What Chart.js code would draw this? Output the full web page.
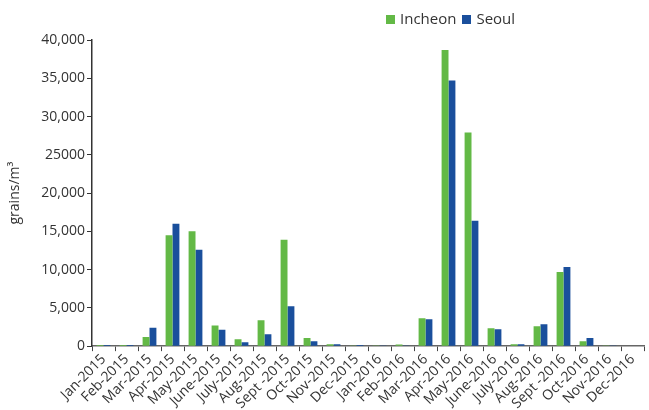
<!DOCTYPE html>
<html>
<head>
<meta charset="utf-8">
<script src="https://cdn.jsdelivr.net/npm/chart.js@4"></script>
<style>
  body { margin: 0; background: #fff; }
  #wrap { position: relative; width: 649px; height: 410px; }
  #legend { position: absolute; left: 386px; top: 8px; font: 15px "Open Sans", sans-serif; color: #333; white-space: nowrap; }
  #legend span.box { display: inline-block; width: 9px; height: 9px; margin-right: 5px; vertical-align: 0px; }
  #legend span.item { margin-right: 6px; }
</style>
</head>
<body>
<div id="wrap">
  <canvas id="pollenChart" width="649" height="410"></canvas>
  <div id="legend">
    <span class="item"><span class="box" style="background:#63b946"></span>Incheon</span><span class="item"><span class="box" style="background:#1a4f9c"></span>Seoul</span>
  </div>
</div>
<script>
const months = ['Jan-2015', 'Feb-2015', 'Mar-2015', 'Apr-2015', 'May-2015', 'June-2015',
  'July-2015', 'Aug-2015', 'Sept -2015', 'Oct-2015', 'Nov-2015', 'Dec-2015',
  'Jan-2016', 'Feb-2016', 'Mar-2016', 'Apr-2016', 'May-2016', 'June-2016',
  'July-2016', 'Aug-2016', 'Sept -2016', 'Oct-2016', 'Nov-2016', 'Dec-2016'];

const incheon = [150, 150, 1200, 14500, 15000, 2700, 900, 3400, 13900, 1050, 250, 100,
  100, 200, 3650, 38700, 27900, 2350, 250, 2600, 9700, 650, 100, 0];

const seoul = [150, 150, 2400, 16000, 12600, 2150, 500, 1550, 5200, 650, 250, 150,
  100, 100, 3500, 34700, 16400, 2200, 250, 2850, 10350, 1050, 100, 0];

const yTickLabels = { 0: '0', 5000: '5,000', 10000: '10,000', 15000: '15,000', 20000: '20,000',
  25000: '25000', 30000: '30,000', 35000: '35,000', 40000: '40,000' };

const font = { family: '"Open Sans", sans-serif', size: 14 };

const ctx = document.getElementById('pollenChart').getContext('2d');
const pollenChart = new Chart(ctx, {
  type: 'bar',
  data: {
    labels: months,
    datasets: [
      { label: 'Incheon', data: incheon, backgroundColor: '#63b946' },
      { label: 'Seoul', data: seoul, backgroundColor: '#1a4f9c' }
    ]
  },
  options: {
    responsive: false,
    animation: false,
    layout: { padding: { top: 40, right: 5, left: 0, bottom: 0 } },
    plugins: { legend: { display: false }, tooltip: { enabled: false } },
    datasets: { bar: { categoryPercentage: 0.6, barPercentage: 1 } },
    scales: {
      x: {
        afterFit: scale => { scale.height -= 2; },
        grid: { display: true, drawOnChartArea: false, drawTicks: true, tickLength: 5, color: '#444', offset: true },
        border: { display: true, color: '#666', width: 1.5 },
        ticks: { color: '#333', font: font, minRotation: 45, maxRotation: 45, autoSkip: false, padding: 0 }
      },
      y: {
        min: 0,
        max: 40000,
        afterFit: scale => { scale.width = 92; },
        grid: { display: true, drawOnChartArea: false, drawTicks: true, tickLength: 5, color: '#333' },
        border: { display: true, color: '#333', width: 1.5 },
        ticks: {
          stepSize: 5000,
          color: '#333',
          font: font,
          padding: 2,
          callback: v => yTickLabels[v]
        },
        title: { display: true, text: 'grains/m³', color: '#333', font: font, padding: { top: 7, bottom: 0 } }
      }
    }
  }
});
</script>
</body>
</html>
